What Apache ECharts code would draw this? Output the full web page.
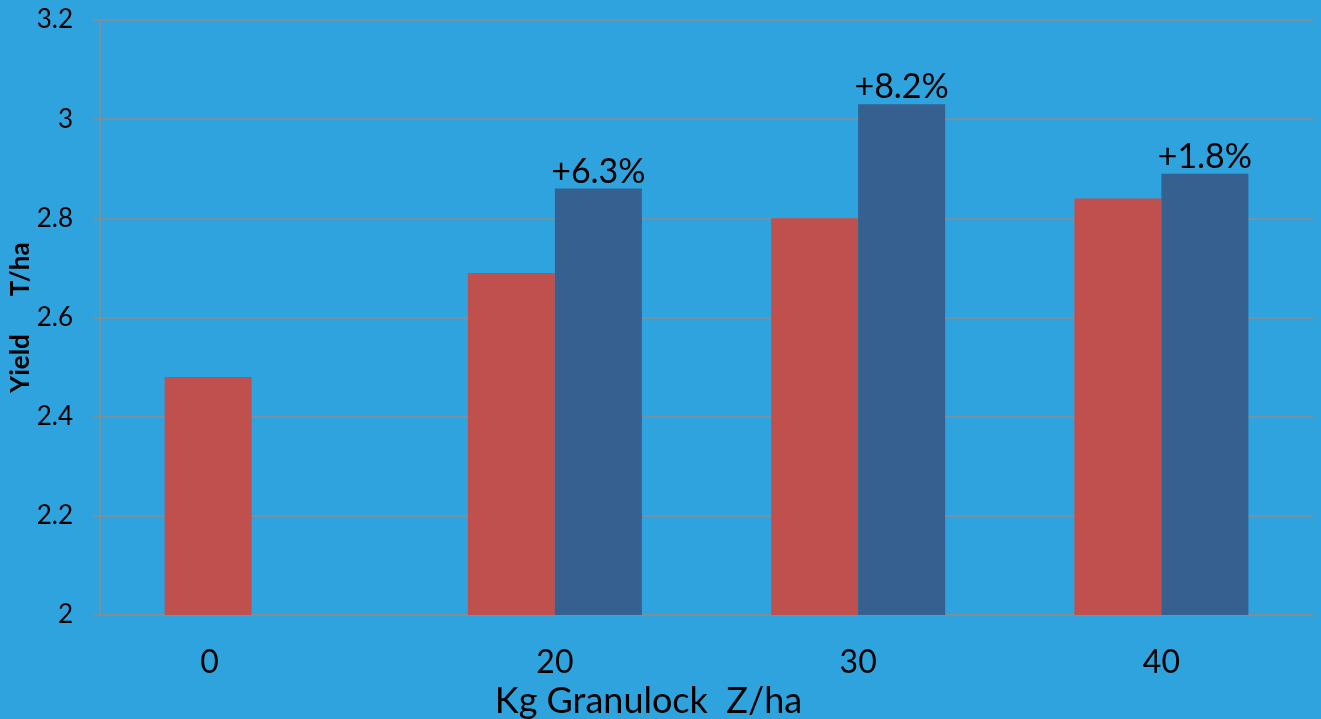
<!DOCTYPE html>
<html>
<head>
<meta charset="utf-8">
<script src="https://cdn.jsdelivr.net/npm/echarts@6/dist/echarts.min.js"></script>
<style>
html,body{margin:0;padding:0;background:#2EA3DE;}
#chart{width:1321px;height:719px;}
</style>
</head>
<body>
<div id="chart"></div>
<script>
const categories = ['0', '20', '30', '40'];
const controlValues = [2.48, 2.69, 2.80, 2.84];
const treatedValues = [null, 2.86, 3.03, 2.89];
const increaseLabels = ['', '+6.3%', '+8.2%', '+1.8%'];
const yTicks = { min: 2, max: 3.2, interval: 0.2 };

const FONT = 'Lato, "Open Sans", sans-serif';
const chart = echarts.init(document.getElementById('chart'));
chart.setOption({
  backgroundColor: '#2EA3DE',
  animation: false,
  grid: { left: 100, right: 8, top: 20, bottom: 104, outerBoundsMode: 'none', containLabel: false },
  xAxis: {
    type: 'category',
    data: categories,
    name: 'Kg Granulock  Z/ha',
    nameLocation: 'middle',
    nameGap: 68,
    nameMoveOverlap: false,
    nameTextStyle: { color: '#000', fontSize: 36, fontFamily: FONT, padding: [0, 116, 0, 0] },
    axisLine: { show: true, lineStyle: { color: '#8C8C8C', width: 1.5 } },
    axisTick: { show: false },
    axisLabel: {
      color: '#000', fontSize: 32, fontFamily: FONT, margin: 32,
      formatter: function (v, i) { return i === 0 ? '{a|' + v + '}' : '{b|' + v + '}'; },
      rich: {
        a: { color: '#000', fontSize: 32, fontFamily: FONT, padding: [0, 84, 0, 0] },
        b: { color: '#000', fontSize: 32, fontFamily: FONT }
      }
    }
  },
  yAxis: {
    type: 'value',
    min: yTicks.min, max: yTicks.max, interval: yTicks.interval,
    name: 'Yield      T/ha',
    nameLocation: 'middle',
    nameGap: 66,
    nameMoveOverlap: false,
    nameTextStyle: { color: '#000', fontSize: 26, fontWeight: 'bold', fontFamily: FONT },
    axisLine: { show: true, lineStyle: { color: '#8C8C8C', width: 1.5 } },
    axisTick: { show: true, length: 7, lineStyle: { color: '#8C8C8C', width: 1.5 } },
    axisLabel: {
      color: '#000', fontSize: 26, fontFamily: FONT, margin: 27,
      formatter: function (v) { return String(Math.round(v * 10) / 10); }
    },
    splitLine: { show: true, lineStyle: { color: '#8C8C8C', width: 1.5 } }
  },
  series: [
    {
      type: 'bar', data: controlValues, barWidth: 87, barGap: '0%',
      itemStyle: { color: '#C0504D' }
    },
    {
      type: 'bar', data: treatedValues, barWidth: 87,
      itemStyle: { color: '#35608F' },
      label: {
        show: true, position: 'top', distance: 0,
        color: '#000', fontSize: 34, fontFamily: FONT,
        formatter: function (p) { return increaseLabels[p.dataIndex]; }
      }
    }
  ]
});
</script>
</body>
</html>
